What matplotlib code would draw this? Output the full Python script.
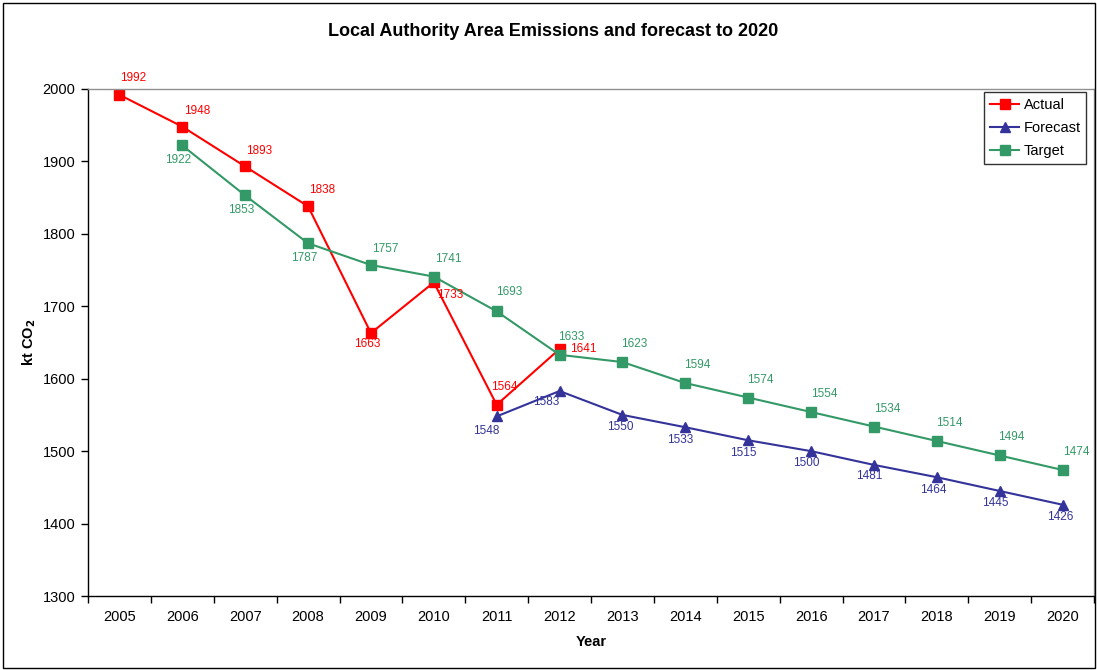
import matplotlib
matplotlib.use("Agg")
from matplotlib import pyplot as plt
from matplotlib.patches import Rectangle

plt.rcParams['font.family'] = ['Liberation Sans', 'DejaVu Sans']

years = [str(y) for y in range(2005, 2021)]

actual = [1992, 1948, 1893, 1838, 1663, 1733, 1564, 1641]
forecast = [1548, 1583, 1550, 1533, 1515, 1500, 1481, 1464, 1445, 1426]
target = [1922, 1853, 1787, 1757, 1741, 1693, 1633, 1623,
          1594, 1574, 1554, 1534, 1514, 1494, 1474]

# first category index of each series
actual_start = 0
forecast_start = 6
target_start = 1

# label offsets in pixels (dx, dy), dy upward
actual_off = [(14, 17), (15, 16), (14, 15), (14, 16), (-4, -11), (16, -13), (8, 18), (24, 0)]
forecast_off = [(-10, -15), (-13, -11), (-2, -12), (-5, -13), (-5, -13),
                (-5, -12), (-5, -11), (-4, -13), (-4, -12), (-2, -12)]
target_off = [(-4, -15), (-4, -15), (-4, -15), (14, 16), (14, 18), (12, 19),
              (12, 18), (12, 18), (12, 18), (12, 18), (13, 18), (13, 18),
              (12, 18), (12, 18), (14, 18)]

red = '#FF0000'
navy = '#333399'
green = '#339966'

fig = plt.figure(figsize=(10.97, 6.70), dpi=100)
ax = fig.add_axes([88/1097, 74/670, (1094-88)/1097, (596-89)/670])

series = [
    ('Actual', actual, actual_start, actual_off, red, 's'),
    ('Forecast', forecast, forecast_start, forecast_off, navy, '^'),
    ('Target', target, target_start, target_off, green, 's'),
]

for name, vals, start, offs, col, mk in series:
    xs = list(range(start, start + len(vals)))
    ax.plot(xs, vals, color=col, lw=1.5, marker=mk, markersize=6.5,
            markerfacecolor=col, markeredgecolor=col, label=name)
    for x, v, (dx, dy) in zip(xs, vals, offs):
        ax.annotate(str(v), (x, v), xytext=(dx, dy), textcoords='offset pixels',
                    ha='center', va='center', fontsize=8.5, color=col)

ax.set_xlim(-0.5, len(years) - 0.5)
ax.set_ylim(1300, 2000)
ax.set_yticks(range(1300, 2001, 100))
ax.set_xticks(range(len(years)))
ax.set_xticklabels(years)
ax.set_xticks([i + 0.5 for i in range(-1, len(years))], minor=True)
ax.tick_params(axis='x', which='major', length=0, labelsize=10.5, pad=10)
ax.tick_params(axis='x', which='minor', length=5, width=1, direction='out')
ax.tick_params(axis='y', length=5, width=1, direction='out', labelsize=10.5, pad=4)

for s in ['top', 'right']:
    ax.spines[s].set_color('#909090')
    ax.spines[s].set_linewidth(1)
for s in ['left', 'bottom']:
    ax.spines[s].set_color('black')
    ax.spines[s].set_linewidth(1)

ax.set_xlabel('Year', fontsize=10.5, fontweight='bold', labelpad=8)
ax.set_ylabel('kt CO$_\\mathbf{2}$', fontsize=10.5, fontweight='bold')
ax.yaxis.set_label_coords(-50/1006, 0.5)

fig.text(553/1097, 1 - 31/670, 'Local Authority Area Emissions and forecast to 2020',
         ha='center', va='center', fontsize=13, fontweight='bold')

leg = ax.legend(loc='upper right', bbox_to_anchor=(0.9925, 0.994), fontsize=10.5,
                frameon=True, fancybox=False, edgecolor='black', borderpad=0.4,
                handlelength=2.0, labelspacing=0.62, handletextpad=0.3,
                borderaxespad=0)
leg.get_frame().set_linewidth(1)

fig.patches.append(Rectangle((3/1097, 2/670), 1092/1097, 665/670,
                             transform=fig.transFigure, fill=False,
                             edgecolor='black', linewidth=1))

fig.savefig('out.png', dpi=100)
